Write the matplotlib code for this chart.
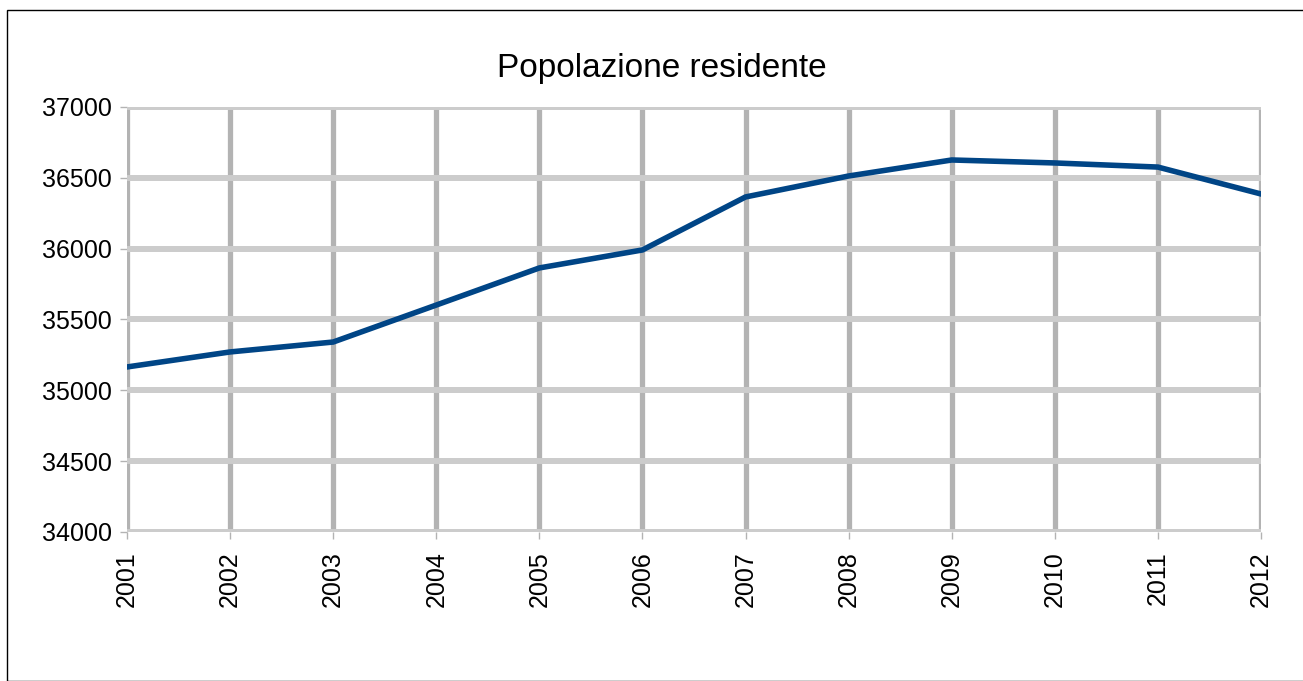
import matplotlib
matplotlib.use("Agg")
import matplotlib.pyplot as plt
from matplotlib.patches import Rectangle

years = [2001, 2002, 2003, 2004, 2005, 2006, 2007, 2008, 2009, 2010, 2011, 2012]
population = [35165, 35271, 35341, 35602, 35864, 35991, 36365, 36513, 36626, 36605, 36576, 36386]
y_ticks = [34000, 34500, 35000, 35500, 36000, 36500, 37000]
title = "Popolazione residente"

plt.rcParams['font.family'] = ['Liberation Sans', 'DejaVu Sans']

W, H = 1303, 681
fig = plt.figure(figsize=(W / 100, H / 100), dpi=100)
fig.patches.append(Rectangle((7 / W, 0), 1.2, 1 - 10 / H, transform=fig.transFigure,
                             fill=False, edgecolor='black', linewidth=1.0))

ax = fig.add_axes([127 / W, 149 / H, (1261 - 127) / W, (532 - 107) / H])
x = list(range(len(years)))
for xi in x:
    ax.axvline(xi, color='#b3b3b3', linewidth=3.8, zorder=1)
for yv in y_ticks:
    ax.axhline(yv, color='#cccccc', linewidth=4.3, zorder=2)
ax.plot(x, population, color='#004586', linewidth=4.0, zorder=3, solid_joinstyle='miter')

ax.set_xlim(0, len(years) - 1)
ax.set_ylim(34000, 37000)
ax.set_xticks(x)
ax.set_xticklabels([str(y) for y in years], rotation=90, fontsize=18)
ax.set_yticks(y_ticks)
ax.set_yticklabels([str(v) for v in y_ticks], fontsize=18)
ax.tick_params(axis='x', length=5, width=1, color='#b3b3b3', pad=9)
ax.tick_params(axis='y', length=5, width=1, color='#b3b3b3', pad=6)
for s in ax.spines.values():
    s.set_visible(False)
fig.text(662 / W, 1 - 68 / H, title, fontsize=24, ha='center', va='center')

fig.savefig("out.png", dpi=100)
